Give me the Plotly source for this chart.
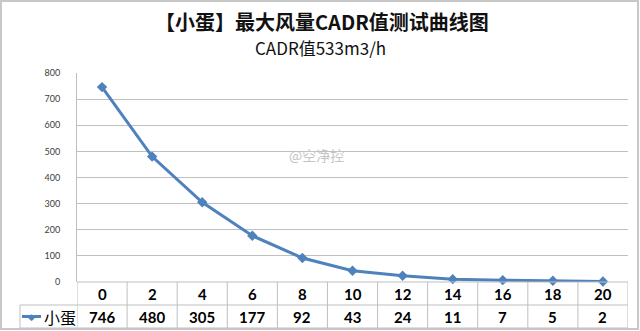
import plotly.graph_objects as go

# ---- data ----
times = [0, 2, 4, 6, 8, 10, 12, 14, 16, 18, 20]
values = [746, 480, 305, 177, 92, 43, 24, 11, 7, 5, 2]
series_name = "小蛋"
title_text = "【小蛋】最大风量CADR值测试曲线图"
subtitle_text = "CADR值533m3/h"
y_ticks = [0, 100, 200, 300, 400, 500, 600, 700, 800]

W, H = 640, 331
L, R, T, B = 77, 628, 73, 282   # plot area in pixels
PW, PH = R - L, B - T

def py(p):   # pixel y -> paper y
    return (B - p) / PH

def px(p):   # pixel x -> paper x
    return (p - L) / PW

blue = "#4F81BD"
gridc = "#BFBFBF"
txt = "#000000"
font_main = "Lato, 'Noto Sans CJK SC', sans-serif"

fig = go.Figure()
fig.add_trace(go.Scatter(
    x=times, y=values, mode="lines+markers", name=series_name,
    line=dict(color=blue, width=3),
    marker=dict(symbol="diamond", size=8, color=blue),
    showlegend=False, cliponaxis=False,
))

shapes = []
annotations = []

# image frame
shapes.append(dict(type="rect", xref="paper", yref="paper",
                   x0=px(1), x1=px(638), y0=py(1), y1=py(329),
                   line=dict(color="#C8C8C8", width=2), fillcolor="rgba(0,0,0,0)", layer="below"))

# table horizontal lines
for yy, x0p in [(B, L), (305, 20), (328, 20)]:
    shapes.append(dict(type="line", xref="paper", yref="paper",
                       x0=px(x0p), x1=px(R), y0=py(yy), y1=py(yy),
                       line=dict(color=gridc, width=1)))
# table vertical lines (column boundaries in data coordinates)
step = times[1] - times[0]
bounds = [times[0] - step / 2] + [t + step / 2 for t in times]
for xb in bounds:
    shapes.append(dict(type="line", xref="x", yref="paper",
                       x0=xb, x1=xb, y0=py(B), y1=py(328),
                       line=dict(color=gridc, width=1)))
# legend cell left border
shapes.append(dict(type="line", xref="paper", yref="paper",
                   x0=px(20), x1=px(20), y0=py(305), y1=py(328),
                   line=dict(color=gridc, width=1)))
# legend key line
shapes.append(dict(type="line", xref="paper", yref="paper",
                   x0=px(22), x1=px(41), y0=py(316.5), y1=py(316.5),
                   line=dict(color=blue, width=3)))

# legend key marker + name
annotations.append(dict(xref="paper", yref="paper", x=px(31.5), y=py(316.5),
                        text="◆", showarrow=False, xanchor="center", yanchor="middle",
                        font=dict(size=9, color=blue, family="DejaVu Sans")))
annotations.append(dict(xref="paper", yref="paper", x=px(42), y=py(316.5),
                        text=series_name, showarrow=False, xanchor="left", yanchor="middle",
                        font=dict(size=16, color=txt, family="Noto Sans CJK SC")))

# table text
for t, v in zip(times, values):
    annotations.append(dict(xref="x", yref="paper", x=t, y=py(293.5), text=f"<b>{t}</b>",
                            showarrow=False, xanchor="center", yanchor="middle",
                            font=dict(size=15, color=txt, family=font_main)))
    annotations.append(dict(xref="x", yref="paper", x=t, y=py(316.5), text=f"<b>{v}</b>",
                            showarrow=False, xanchor="center", yanchor="middle",
                            font=dict(size=15, color=txt, family=font_main)))

# titles
annotations.append(dict(xref="paper", yref="paper", x=px(322), y=py(22), text=f"<b>{title_text}</b>",
                        showarrow=False, xanchor="center", yanchor="middle",
                        font=dict(size=20, color="#111111", family="Noto Sans CJK SC")))
annotations.append(dict(xref="paper", yref="paper", x=px(320), y=py(48), text=subtitle_text,
                        showarrow=False, xanchor="center", yanchor="middle",
                        font=dict(size=17, color="#111111", family="Noto Sans CJK SC")))
# watermark
annotations.append(dict(xref="paper", yref="paper", x=px(316), y=py(155), text="@空净控",
                        showarrow=False, xanchor="center", yanchor="middle",
                        font=dict(size=14, color="#C4C4C4", family="Noto Sans CJK SC")))

fig.update_layout(
    width=W, height=H,
    margin=dict(l=L, r=W - R, t=T, b=H - B, pad=0),
    paper_bgcolor="white", plot_bgcolor="white",
    shapes=shapes, annotations=annotations,
    xaxis=dict(range=[bounds[0], bounds[-1]], showticklabels=False, showgrid=False,
               zeroline=False, showline=False, ticks=""),
    yaxis=dict(range=[0, 800], tickvals=y_ticks, showgrid=True, gridcolor=gridc, gridwidth=1,
               zeroline=False, showline=True, linecolor=gridc, linewidth=1,
               ticks="", ticklen=0, tickfont=dict(size=9, color="#404040", family=font_main),
               ticklabelstandoff=14),
)

fig.write_html("out.html")
